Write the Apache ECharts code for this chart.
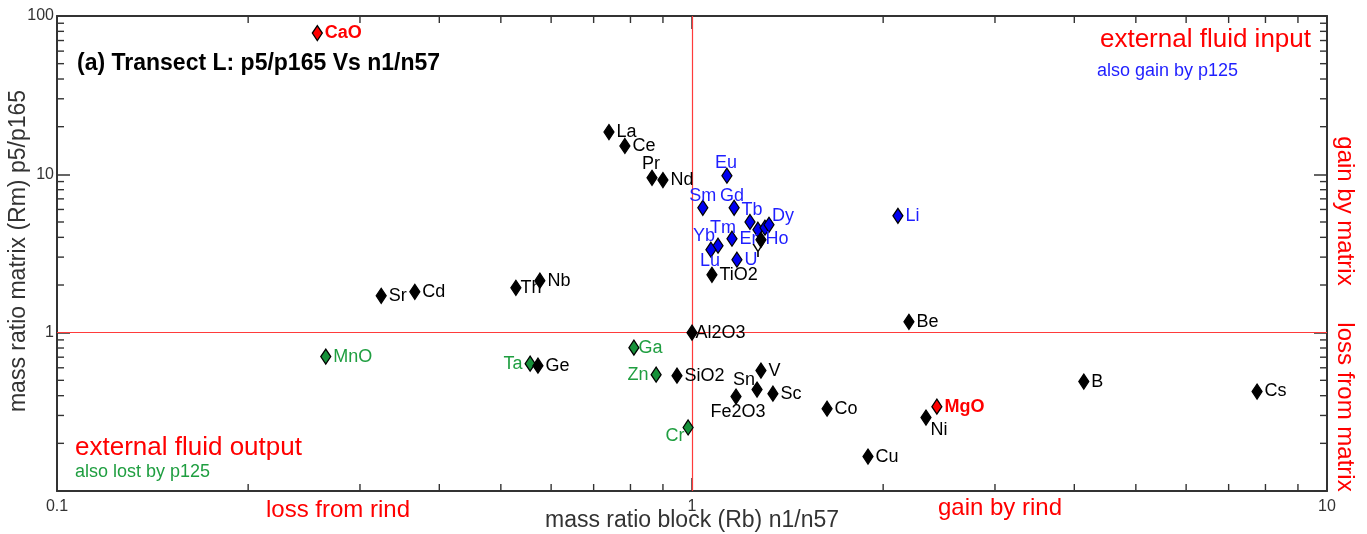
<!DOCTYPE html>
<html>
<head>
<meta charset="utf-8">
<script src="https://cdn.jsdelivr.net/npm/echarts@6/dist/echarts.min.js"></script>
<style>
  html, body { margin: 0; padding: 0; background: #fff; }
  #chart { width: 1367px; height: 534px; }
</style>
</head>
<body>
<div id="chart"></div>
<script>
// Element mass ratios: rind block (n1/n57) vs matrix (p5/p165)
const elements = ['CaO','La','Ce','Pr','Nd','Eu','Sm','Gd','Tb','Tm','Ho','Dy','Y','Er','Yb','Lu','U','TiO2','Li',
  'Sr','Cd','Th','Nb','Be','Al2O3','MnO','Ga','Ta','Ge','Zn','SiO2','Cr','V','Sn','Sc','Fe2O3','Co','MgO','Ni','Cu','B','Cs'];
const rindRatio = [0.257,0.740,0.784,0.865,0.900,1.135,1.040,1.165,1.234,1.270,1.303,1.322,1.284,1.156,1.099,1.071,1.177,1.075,2.110,
  0.324,0.366,0.528,0.576,2.196,1.000,0.265,0.810,0.556,0.572,0.878,0.947,0.986,1.284,1.266,1.341,1.173,1.632,2.430,2.336,1.893,4.140,7.760];
const matrixRatio = [78,18.5,15.1,9.5,9.2,9.8,6.15,6.15,5.0,4.47,4.6,4.8,3.86,3.92,3.54,3.34,2.89,2.32,5.47,
  1.71,1.81,1.92,2.13,1.17,1.0,0.706,0.804,0.637,0.619,0.543,0.535,0.252,0.576,0.437,0.412,0.395,0.331,0.341,0.291,0.165,0.491,0.425];
// base = plain, gain = also gained by p125, lost = also lost by p125, key = highlighted oxides
const groups = ['key','base','base','base','base','gain','gain','gain','gain','gain','gain','gain','base','gain','gain','gain','gain','base','gain',
  'base','base','base','base','base','base','lost','lost','lost','base','lost','base','lost','base','base','base','base','base','key','base','base','base','base'];

const xTickLabels = ['0.1', '1', '10'];
const yTickLabels = ['1', '10', '100'];
const minorTicksX = [0.2,0.3,0.4,0.5,0.6,0.7,0.8,0.9,2,3,4,5,6,7,8,9];
const minorTicksY = [0.2,0.3,0.4,0.5,0.6,0.7,0.8,0.9,2,3,4,5,6,7,8,9,20,30,40,50,60,70,80,90];
const xTitle = 'mass ratio block (Rb) n1/n57';
const yTitle = 'mass ratio matrix (Rm) p5/p165';

// Styling
const FONT = '"Liberation Sans", Arial, sans-serif';
const groupStyle = {
  gain: { fill: '#0000f0', text: '#1f1fff', weight: 'normal' },
  lost: { fill: '#16913a', text: '#1f9e40', weight: 'normal' },
  base: { fill: '#000000', text: '#000000', weight: 'normal' },
  key:  { fill: '#ff0000', text: '#ff0000', weight: 'bold' }
};
// Label placement: side name, or offset of the label centre from the marker centre
const labelPlacement = {
  Pr: [-1, -14], Eu: [-1, -13], Sm: [0, -12], Gd: [-2, -12], Tb: [2, -12],
  Dy: [14, -9], Ho: [12, 11], Tm: [-35, -2], Yb: [-14, -10], Lu: [-1, 11],
  Y: [-3, 12], Cr: [-13, 9], Sn: [-13, -10], Fe2O3: [2, 15], Ni: [13, 12],
  Ta: 'left', Zn: 'left'
};
const tightRight = { Ga: -1, Th: -1, Al2O3: -2 };

function labelFor(name, st) {
  const base = { show: true, formatter: name, color: st.text, fontSize: 18, fontFamily: FONT, fontWeight: st.weight };
  const p = labelPlacement[name];
  if (Array.isArray(p)) {
    return Object.assign(base, { position: 'inside', offset: p, align: 'center', verticalAlign: 'middle' });
  }
  if (p === 'left') return Object.assign(base, { position: 'left', distance: 2 });
  return Object.assign(base, { position: 'right', distance: tightRight[name] != null ? tightRight[name] : 2 });
}

function buildSeries(group) {
  const st = groupStyle[group];
  const data = [];
  elements.forEach((name, i) => {
    if (groups[i] !== group) return;
    data.push({ name, value: [rindRatio[i], matrixRatio[i]], label: labelFor(name, st) });
  });
  return {
    type: 'scatter', name: group, data,
    symbol: 'diamond', symbolSize: [10, 15],
    itemStyle: { color: st.fill, borderColor: '#000', borderWidth: 1.3, opacity: 1 },
    emphasis: { disabled: true }, z: 5
  };
}

function fmt(list) {
  return v => { const s = String(+(+v).toPrecision(6)); return list.includes(s) ? s : ''; };
}

function minorTickSeries(values, dir) {
  return {
    type: 'custom', silent: true, clip: false, z: 3,
    data: values.map(v => dir === 'x' ? [v, 1] : [1, v]),
    renderItem(params, api) {
      const cs = params.coordSys;
      const st = { stroke: '#333', lineWidth: 1.4 };
      const L = 7;
      if (dir === 'x') {
        const px = api.coord([api.value(0), 1])[0];
        const yb = cs.y + cs.height, yt = cs.y;
        return { type: 'group', children: [
          { type: 'line', shape: { x1: px, y1: yb, x2: px, y2: yb - L }, style: st },
          { type: 'line', shape: { x1: px, y1: yt, x2: px, y2: yt + L }, style: st }
        ]};
      }
      const py = api.coord([1, api.value(1)])[1];
      const xl = cs.x, xr = cs.x + cs.width;
      return { type: 'group', children: [
        { type: 'line', shape: { x1: xl, y1: py, x2: xl + L, y2: py }, style: st },
        { type: 'line', shape: { x1: xr, y1: py, x2: xr - L, y2: py }, style: st }
      ]};
    }
  };
}

const axisLine = { show: true, onZero: false, lineStyle: { color: '#333', width: 2 } };
const axisTick = { show: true, inside: true, length: 13, lineStyle: { color: '#333', width: 1.5 } };
const labelStyle = { color: '#333', fontSize: 16, fontFamily: FONT };

const chart = echarts.init(document.getElementById('chart'), null, { renderer: 'canvas' });

const series = ['gain', 'lost', 'base', 'key'].map(buildSeries);
series[0].markLine = {
  silent: true, symbol: 'none', animation: false,
  label: { show: false },
  lineStyle: { color: '#ff3b3b', width: 1.2, type: 'solid' },
  data: [{ xAxis: 1 }, { yAxis: 1 }]
};
series.unshift(minorTickSeries(minorTicksX, 'x'), minorTickSeries(minorTicksY, 'y'));

function note(text, x, y, size, color, align, extra) {
  return Object.assign({ type: 'text', x, y, silent: true,
    style: { text, font: size + 'px ' + FONT, fill: color, align, verticalAlign: 'middle' } }, extra || {});
}

chart.setOption({
  animation: false,
  backgroundColor: '#fff',
  grid: { left: 57, right: 40, top: 16, bottom: 43, containLabel: false, outerBoundsMode: 'none' },
  xAxis: [
    { type: 'log', logBase: 10, min: 0.1, max: 10, position: 'bottom',
      axisLine, axisTick, splitLine: { show: false },
      axisLabel: Object.assign({ formatter: fmt(xTickLabels), margin: 8, showMinLabel: true, showMaxLabel: true }, labelStyle) },
    { type: 'log', logBase: 10, min: 0.1, max: 10, position: 'top',
      axisLine, axisTick, splitLine: { show: false }, axisLabel: { show: false } }
  ],
  yAxis: [
    { type: 'log', logBase: 10, min: 0.1, max: 100, position: 'left',
      axisLine, axisTick, splitLine: { show: false },
      axisLabel: Object.assign({ formatter: fmt(yTickLabels), margin: 3, showMinLabel: false }, labelStyle) },
    { type: 'log', logBase: 10, min: 0.1, max: 100, position: 'right',
      axisLine, axisTick, splitLine: { show: false }, axisLabel: { show: false } }
  ],
  graphic: [
    note(xTitle, 692, 521, 23, '#333', 'center'),
    note(yTitle, 19, 251, 23, '#333', 'center', { rotation: Math.PI / 2 }),
    { type: 'text', x: 77, y: 64, silent: true,
      style: { text: '(a) Transect L: p5/p165 Vs n1/n57', font: 'bold 23px ' + FONT, fill: '#000', align: 'left', verticalAlign: 'middle' } },
    note('external fluid input', 1311, 40, 26, '#ff0000', 'right'),
    note('also gain by p125', 1097, 71, 18, '#1f1fff', 'left'),
    note('external fluid output', 75, 448, 26, '#ff0000', 'left'),
    note('also lost by p125', 75, 472, 18, '#1f9e40', 'left'),
    note('loss from rind', 338, 510, 24, '#ff0000', 'center'),
    note('gain by rind', 1000, 508, 24, '#ff0000', 'center'),
    note('gain by matrix', 1345, 211, 24, '#ff0000', 'center', { rotation: -Math.PI / 2 }),
    note('loss from matrix', 1345, 407, 24, '#ff0000', 'center', { rotation: -Math.PI / 2 })
  ],
  series
});
</script>
</body>
</html>
